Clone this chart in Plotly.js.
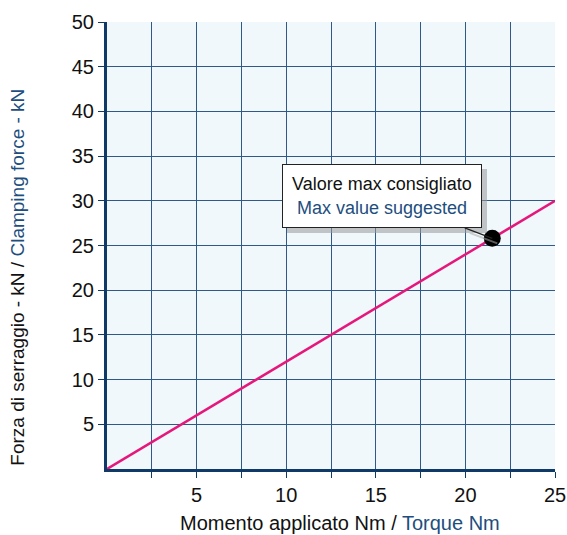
<!DOCTYPE html>
<html><head><meta charset="utf-8">
<script src="https://cdn.plot.ly/plotly-3.0.1.min.js"></script>
<style>body{margin:0;background:#fff}#chart{width:567px;height:535px}</style>
</head><body><div id="chart"></div>
<script>
// Data
const torque = [0, 25];
const force = [0, 30];
const maxPointX = [21.5];
const maxPointY = [25.8];
const xTickVals = [2.5, 5, 7.5, 10, 12.5, 15, 17.5, 20, 22.5, 25];
const xTickText = ['', '5', '', '10', '', '15', '', '20', '', '25'];
const yTickVals = [5, 10, 15, 20, 25, 30, 35, 40, 45, 50];
const yTickText = ['5', '10', '15', '20', '25', '30', '35', '40', '45', '50'];

const navy = '#0f3a68';
const blueText = '#1d4e7e';
const gridCol = '#2f5987';
const fontFam = 'Liberation Sans, Arial, sans-serif';

const traces = [
  {x: torque, y: force, mode: 'lines', line: {color: '#e5177b', width: 2.5}, hoverinfo: 'skip'},
  {x: maxPointX, y: maxPointY, mode: 'markers', marker: {color: '#000', size: 17}, hoverinfo: 'skip'}
];

const annText = 'Valore max consigliato<br><span style="color:' + blueText + '">Max value suggested</span>';
const xTitle = 'Momento applicato Nm / <span style="color:' + blueText + '">Torque Nm</span>';
const yTitle = 'Forza di serraggio - kN / <span style="color:' + blueText + '">Clamping force - kN</span>';
const layout = {
  width: 567, height: 535,
  margin: {l: 107, r: 12, t: 22, b: 66},
  paper_bgcolor: '#ffffff',
  plot_bgcolor: '#f1f8fc',
  showlegend: false,
  font: {family: fontFam, size: 20, color: '#111'},
  xaxis: {
    range: [0, 25], tickvals: xTickVals, ticktext: xTickText,
    showgrid: true, gridcolor: gridCol, gridwidth: 1,
    zeroline: false, showline: true, linecolor: navy, linewidth: 3,
    ticks: 'outside', ticklen: 6, tickcolor: navy, tickwidth: 1,
    tickfont: {size: 20, color: '#111', family: fontFam}
  },
  yaxis: {
    range: [0, 50], tickvals: yTickVals, ticktext: yTickText,
    showgrid: true, gridcolor: gridCol, gridwidth: 1,
    zeroline: false, showline: true, linecolor: navy, linewidth: 3,
    ticks: 'outside', ticklen: 6, tickcolor: navy, tickwidth: 1,
    tickfont: {size: 20, color: '#111', family: fontFam}
  },
  annotations: [
    {x: 0.52, y: -0.121, xref: 'paper', yref: 'paper', xanchor: 'center', yanchor: 'middle',
     text: xTitle, showarrow: false, font: {size: 20, color: '#111', family: fontFam}},
    {x: -0.199, y: 0.43, xref: 'paper', yref: 'paper', xanchor: 'center', yanchor: 'middle',
     text: yTitle, textangle: -90, showarrow: false, font: {size: 19, color: '#111', family: fontFam}},
    {x: maxPointX[0], y: maxPointY[0], xref: 'x', yref: 'y',
     ax: 15.35, ay: 30.5, axref: 'x', ayref: 'y',
     text: ' ', width: 188, height: 52, showarrow: true, arrowhead: 0, arrowwidth: 2, arrowcolor: '#aaa',
     bgcolor: '#9a9a9a', bordercolor: '#9a9a9a', borderwidth: 1, borderpad: 5,
     xshift: 5, yshift: -5, opacity: 0.55},
    {x: maxPointX[0], y: maxPointY[0], xref: 'x', yref: 'y',
     ax: 15.35, ay: 30.5, axref: 'x', ayref: 'y',
     text: annText, width: 188, height: 52, showarrow: true, arrowhead: 0, arrowwidth: 1.2, arrowcolor: '#222',
     bgcolor: '#ffffff', bordercolor: '#222', borderwidth: 1, borderpad: 5,
     font: {size: 18, color: '#111', family: fontFam}}
  ]
};
Plotly.newPlot('chart', traces, layout, {displayModeBar: false, staticPlot: true});
</script></body></html>
